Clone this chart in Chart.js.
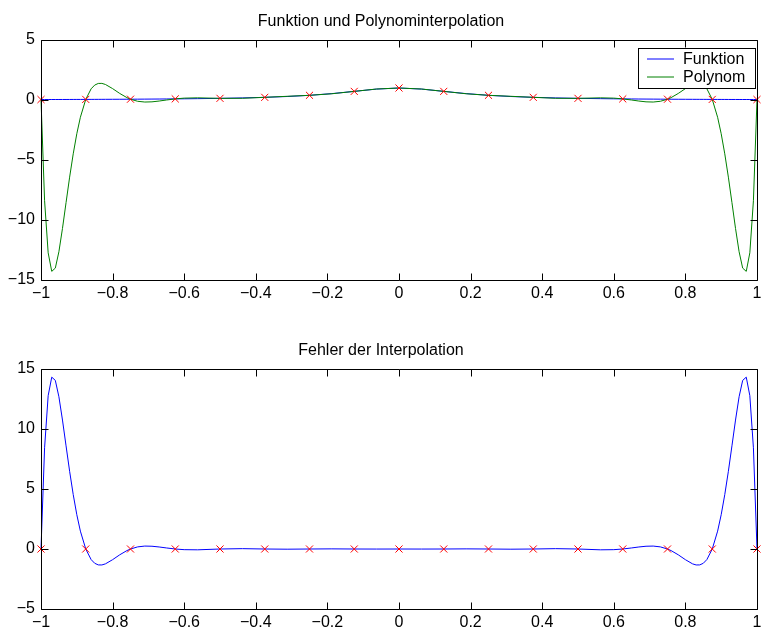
<!DOCTYPE html>
<html>
<head>
<meta charset="utf-8">
<script src="https://cdn.jsdelivr.net/npm/chart.js@4"></script>
<style>
  html, body { margin: 0; padding: 0; background: #fff; }
  #wrap { position: relative; width: 763px; height: 628px; }
  .panel { position: absolute; left: 0; width: 763px; height: 314px; }
</style>
</head>
<body>
<div id="wrap">
  <div class="panel" style="top:0"><canvas id="topChart"></canvas></div>
  <div class="panel" style="top:314px"><canvas id="bottomChart"></canvas></div>
</div>
<script>
// sample points along x (denser near the edges where the polynomial swings)
const xs = [-1, -0.99, -0.98, -0.97, -0.96, -0.95, -0.94, -0.93, -0.92, -0.91, -0.9, -0.89, -0.875,
  -0.86, -0.85, -0.84, -0.83, -0.82, -0.8, -0.78, -0.76, -0.75, -0.73, -0.71, -0.69, -0.67, -0.65,
  -0.625, -0.6, -0.5625, -0.5, -0.4375, -0.375, -0.3125, -0.25, -0.1875, -0.125, -0.0625,
  0,
  0.0625, 0.125, 0.1875, 0.25, 0.3125, 0.375, 0.4375, 0.5, 0.5625, 0.6, 0.625, 0.65, 0.67, 0.69,
  0.71, 0.73, 0.75, 0.76, 0.78, 0.8, 0.82, 0.83, 0.84, 0.85, 0.86, 0.875, 0.89, 0.9, 0.91, 0.92,
  0.93, 0.94, 0.95, 0.96, 0.97, 0.98, 0.99, 1];

const funktion = [0.0385, 0.0392, 0.04, 0.0408, 0.0416, 0.0424, 0.0433, 0.0442, 0.0451, 0.0461, 0.0471, 0.0481, 0.0497,
  0.0513, 0.0525, 0.0536, 0.0549, 0.0561, 0.0588, 0.0617, 0.0648, 0.0664, 0.0698, 0.0735, 0.0775, 0.0818, 0.0865,
  0.0929, 0.1, 0.1122, 0.1379, 0.1729, 0.2215, 0.2906, 0.3902, 0.5322, 0.7191, 0.911,
  1,
  0.911, 0.7191, 0.5322, 0.3902, 0.2906, 0.2215, 0.1729, 0.1379, 0.1122, 0.1, 0.0929, 0.0865, 0.0818, 0.0775,
  0.0735, 0.0698, 0.0664, 0.0648, 0.0617, 0.0588, 0.0561, 0.0549, 0.0536, 0.0525, 0.0513, 0.0497, 0.0481, 0.0471, 0.0461, 0.0451,
  0.0442, 0.0433, 0.0424, 0.0416, 0.0408, 0.04, 0.0392, 0.0385];

const polynom = [0.0385, -8.3948, -12.734, -14.2802, -14.0104, -12.6446, -10.7037, -8.5498, -6.4279, -4.4869, -2.8119, -1.4399, 0.0497,
  0.9313, 1.2425, 1.3796, 1.3849, 1.2931, 0.9488, 0.5447, 0.1988, 0.0664, -0.1072, -0.1705, -0.1525, -0.0862, -0.0021,
  0.0929, 0.1552, 0.1806, 0.1379, 0.1434, 0.2215, 0.3075, 0.3902, 0.5207, 0.7191, 0.9162,
  1,
  0.9162, 0.7191, 0.5207, 0.3902, 0.3075, 0.2215, 0.1434, 0.1379, 0.1806, 0.1552, 0.0929, -0.0021, -0.0862, -0.1525,
  -0.1705, -0.1072, 0.0664, 0.1988, 0.5447, 0.9488, 1.2931, 1.3849, 1.3796, 1.2425, 0.9313, 0.0497, -1.4399, -2.8119, -4.4869, -6.4279,
  -8.5498, -10.7037, -12.6446, -14.0104, -14.2802, -12.734, -8.3948, 0.0385];

const fehler = [0, 8.434, 12.774, 14.321, 14.052, 12.687, 10.747, 8.594, 6.473, 4.533, 2.859, 1.488, 0,
  -0.88, -1.19, -1.326, -1.33, -1.237, -0.89, -0.483, -0.134, 0, 0.177, 0.244, 0.23, 0.168, 0.0886,
  0, -0.0552, -0.0684, 0, 0.0295, 0, -0.0169, 0, 0.0115, 0, -0.0052,
  0,
  -0.0052, 0, 0.0115, 0, -0.0169, 0, 0.0295, 0, -0.0684, -0.0552, 0, 0.0886, 0.168, 0.23,
  0.244, 0.177, 0, -0.134, -0.483, -0.89, -1.237, -1.33, -1.326, -1.19, -0.88, 0, 1.488, 2.859, 4.533, 6.473,
  8.594, 10.747, 12.687, 14.052, 14.321, 12.774, 8.434, 0];

// interpolation nodes
const knoten = [-1, -0.875, -0.75, -0.625, -0.5, -0.375, -0.25, -0.125, 0, 0.125, 0.25, 0.375, 0.5, 0.625, 0.75, 0.875, 1];
const knotenWerte = [0.0385, 0.0497, 0.0664, 0.0929, 0.1379, 0.2215, 0.3902, 0.7191, 1, 0.7191, 0.3902, 0.2215, 0.1379, 0.0929, 0.0664, 0.0497, 0.0385];
const knotenFehler = [0, 0, 0, 0, 0, 0, 0, 0, 0, 0, 0, 0, 0, 0, 0, 0, 0];

const xTicks = { min: -1, max: 1, step: 0.2 };
const yTicksTop = { min: -15, max: 5, step: 5 };
const yTicksBottom = { min: -5, max: 15, step: 5 };

Chart.defaults.font.family = '"Liberation Sans", Arial, Helvetica, sans-serif';
Chart.defaults.font.size = 16;
Chart.defaults.color = '#000';

const toPoints = (x, y) => x.map((v, i) => ({ x: v, y: y[i] }));
const fmt = v => String(Math.round(v * 10) / 10).replace('-', '\u2212');

// MATLAB style box with inward ticks on all four sides
const boxTicks = {
  id: 'boxTicks',
  afterDraw(chart) {
    const { ctx, chartArea: a, scales } = chart;
    const len = 7;
    const L = Math.round(a.left) + 0.5, R = Math.round(a.right) + 0.5;
    const T = Math.round(a.top) + 0.5, B = Math.round(a.bottom) + 0.5;
    ctx.save();
    ctx.strokeStyle = '#000';
    ctx.lineWidth = 1;
    ctx.beginPath();
    scales.x.ticks.forEach(t => {
      const px = Math.round(scales.x.getPixelForValue(t.value)) + 0.5;
      ctx.moveTo(px, T); ctx.lineTo(px, T + len);
      ctx.moveTo(px, B); ctx.lineTo(px, B - len);
    });
    scales.y.ticks.forEach(t => {
      const py = Math.round(scales.y.getPixelForValue(t.value)) + 0.5;
      ctx.moveTo(L, py); ctx.lineTo(L + len, py);
      ctx.moveTo(R, py); ctx.lineTo(R - len, py);
    });
    ctx.rect(L, T, R - L, B - T);
    ctx.stroke();
    ctx.restore();
  }
};

// boxed legend in the upper right corner
const legendBox = {
  id: 'legendBox',
  afterDraw(chart) {
    const ctx = chart.ctx;
    const items = chart.data.datasets.filter(d => d.inLegend);
    ctx.save();
    ctx.fillStyle = '#fff';
    ctx.fillRect(638, 48, 117, 40);
    ctx.strokeStyle = '#000';
    ctx.lineWidth = 1;
    ctx.strokeRect(638.5, 48.5, 117, 40);
    ctx.font = '16px "Liberation Sans", Arial, sans-serif';
    ctx.textBaseline = 'middle';
    items.forEach((d, i) => {
      const y = 59 + i * 18;
      ctx.strokeStyle = d.borderColor;
      ctx.beginPath();
      ctx.moveTo(647, y);
      ctx.lineTo(674, y);
      ctx.stroke();
      ctx.fillStyle = '#000';
      ctx.fillText(d.label, 683, y + 1);
    });
    ctx.restore();
  }
};

function makeOptions(title, titlePad, yRange, xHeight) {
  return {
    responsive: true,
    maintainAspectRatio: false,
    animation: false,
    events: [],
    layout: { padding: { left: 0, right: 1, top: 0, bottom: 0 } },
    plugins: {
      legend: { display: false },
      tooltip: { enabled: false },
      title: {
        display: true,
        text: title,
        font: { size: 16, weight: 'normal' },
        padding: titlePad
      }
    },
    scales: {
      x: {
        type: 'linear',
        min: xTicks.min,
        max: xTicks.max,
        grid: { display: false, drawTicks: false },
        border: { display: false },
        ticks: { stepSize: xTicks.step, padding: 4, maxRotation: 0, autoSkip: false, callback: fmt },
        afterFit(scale) {
          scale.height = xHeight;
          scale.paddingLeft = 0;
          scale.paddingRight = 0;
        }
      },
      y: {
        min: yRange.min,
        max: yRange.max,
        grid: { display: false, drawTicks: false },
        border: { display: false },
        ticks: { stepSize: yRange.step, padding: 6, callback: fmt },
        afterFit(scale) {
          scale.width = 41;
          scale.paddingTop = 0;
          scale.paddingBottom = 0;
        }
      }
    }
  };
}

const lineStyle = { pointRadius: 0, borderWidth: 1, tension: 0, fill: false, clip: false };
const markerStyle = {
  showLine: false, pointStyle: 'crossRot', pointRadius: 5, pointBorderWidth: 1,
  borderColor: '#ff0000', backgroundColor: '#ff0000', clip: false
};

// lower "order" is drawn on top: markers over polynom over function
new Chart(document.getElementById('topChart'), {
  type: 'line',
  data: {
    datasets: [
      { label: 'Stützstellen', data: toPoints(knoten, knotenWerte), order: 0, ...markerStyle },
      { label: 'Funktion', data: toPoints(xs, funktion), borderColor: '#0000ff', order: 2, inLegend: true, ...lineStyle },
      { label: 'Polynom', data: toPoints(xs, polynom), borderColor: '#008000', order: 1, inLegend: true, ...lineStyle }
    ]
  },
  options: makeOptions('Funktion und Polynominterpolation', { top: 12.2, bottom: 8.6 }, yTicksTop, 34),
  plugins: [boxTicks, legendBox]
});

new Chart(document.getElementById('bottomChart'), {
  type: 'line',
  data: {
    datasets: [
      { label: 'Stützstellen', data: toPoints(knoten, knotenFehler), order: 0, ...markerStyle },
      { label: 'Fehler', data: toPoints(xs, fehler), borderColor: '#0000ff', order: 1, ...lineStyle }
    ]
  },
  options: makeOptions('Fehler der Interpolation', { top: 27, bottom: 8.8 }, yTicksBottom, 19),
  plugins: [boxTicks]
});
</script>
</body>
</html>
